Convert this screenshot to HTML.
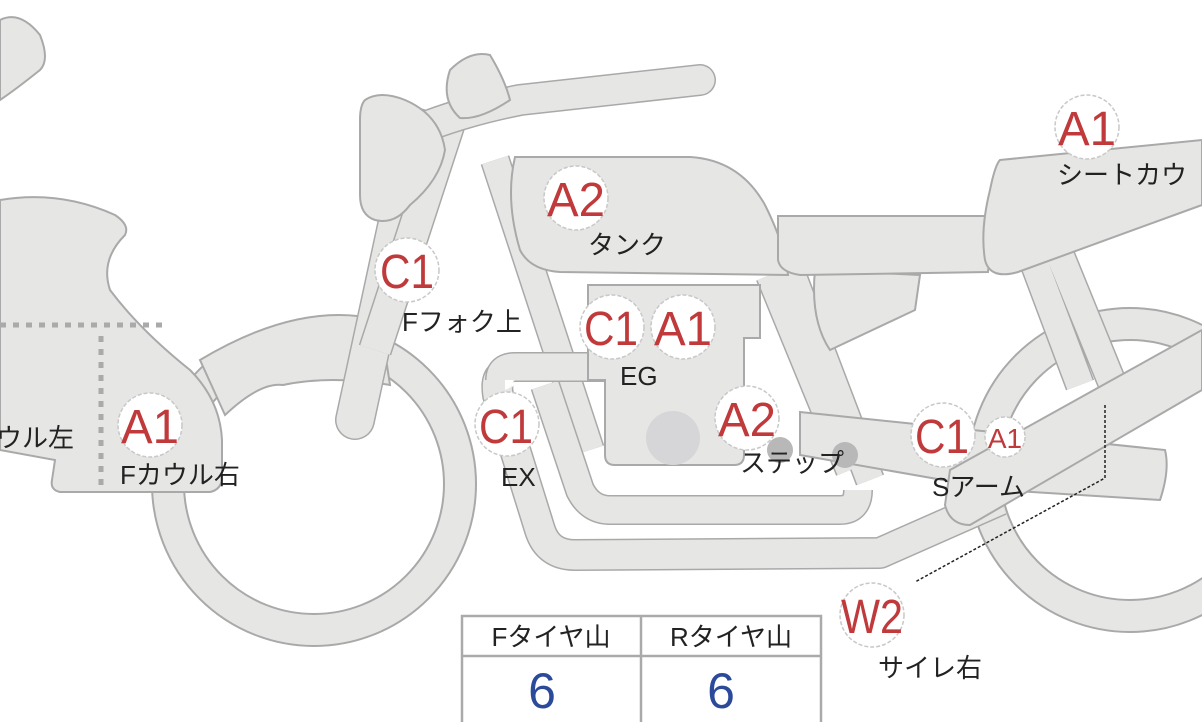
<!DOCTYPE html>
<html><head><meta charset="utf-8"><style>
html,body{margin:0;padding:0;background:#fff;}
svg{display:block}
text{font-family:"Liberation Sans","Noto Sans CJK JP",sans-serif;}
.j{font-size:26px;fill:#222}
.r{fill:#c0393b;font-size:48px;text-anchor:middle}
</style></head><body>
<svg width="1202" height="722" viewBox="0 0 1202 722" xmlns="http://www.w3.org/2000/svg">
<defs>
<style>.s{fill:#e6e6e4;stroke:#a9a9a9;stroke-width:2}</style>
</defs>
<g>
<circle cx="314" cy="484" r="146" fill="none" stroke="#a9a9a9" stroke-width="34"/>
<circle cx="314" cy="484" r="146" fill="none" stroke="#e6e6e4" stroke-width="30"/>
<circle cx="1130" cy="470" r="146" fill="none" stroke="#a9a9a9" stroke-width="34"/>
<circle cx="1130" cy="470" r="146" fill="none" stroke="#e6e6e4" stroke-width="30"/>
</g>
<path class="s" d="M200,360 Q300,300 380,320 L390,385 Q330,375 283,385 Q260,382 225,415 Z"/>
<path class="s" d="M0,20 Q20,10 40,35 Q50,60 40,70 Q15,90 0,100 Z"/>
<path class="s" d="M0,200 Q60,190 115,215 Q130,225 125,235 Q100,260 110,290 Q140,330 190,370 Q220,400 222,440 L222,480 Q220,490 210,492 L60,492 Q50,490 52,480 L55,460 L0,450 Z"/>
<path d="M0,325 H165 M101,336 V488" stroke="#aaa" stroke-width="5" stroke-dasharray="6,7" fill="none"/>
<path d="M418,128 L355,420" stroke="#a9a9a9" stroke-width="40" stroke-linecap="round"/>
<path d="M418,128 L355,420" stroke="#e6e6e4" stroke-width="37" stroke-linecap="round"/>
<path d="M450,120 L375,350" stroke="#a9a9a9" stroke-width="34"/>
<path d="M450,120 L375,350" stroke="#e6e6e4" stroke-width="31"/>
<path d="M430,125 Q470,110 520,100 L700,80" stroke="#a9a9a9" stroke-width="32" stroke-linecap="round" fill="none"/>
<path d="M430,125 Q470,110 520,100 L700,80" stroke="#e6e6e4" stroke-width="29" stroke-linecap="round" fill="none"/>
<path class="s" d="M450,70 Q470,50 490,55 Q505,80 510,100 Q480,120 460,118 Q440,100 450,70 Z"/>
<path class="s" d="M365,100 Q380,90 405,100 Q440,115 445,150 Q440,180 410,205 Q395,225 375,220 Q360,215 360,195 L360,120 Q360,105 365,100 Z"/>
<path d="M495,160 L590,450 M770,275 L850,470 M790,270 L870,480" stroke="#a9a9a9" stroke-width="30" fill="none"/>
<path d="M495,160 L590,450 M770,275 L850,470 M790,270 L870,480" stroke="#e6e6e4" stroke-width="27" fill="none"/>
<path d="M1060,255 L1115,390 M1035,265 L1080,385" stroke="#a9a9a9" stroke-width="30" fill="none"/>
<path d="M1060,255 L1115,390 M1035,265 L1080,385" stroke="#e6e6e4" stroke-width="27" fill="none"/>
<path class="s" d="M815,270 L920,275 L915,310 L830,350 Q810,320 815,270 Z"/>
<path d="M505,375 Q495,375 498,395 L540,530 Q548,555 575,555 L880,553 L1000,500" stroke="#a9a9a9" stroke-width="32" fill="none" stroke-linejoin="round"/>
<path d="M505,375 Q495,375 498,395 L540,530 Q548,555 575,555 L880,553 L1000,500" stroke="#e6e6e4" stroke-width="29" fill="none" stroke-linejoin="round"/>
<path d="M545,385 L580,490 Q590,510 610,510 L840,510 Q858,510 858,490" stroke="#a9a9a9" stroke-width="30" fill="none"/>
<path d="M545,385 L580,490 Q590,510 610,510 L840,510 Q858,510 858,490" stroke="#e6e6e4" stroke-width="27" fill="none"/>
<path d="M500,380 Q500,367 515,367 L605,367" stroke="#a9a9a9" stroke-width="30" fill="none"/>
<path d="M500,380 Q500,367 515,367 L607,367" stroke="#e6e6e4" stroke-width="27" fill="none"/>
<path class="s" d="M588,285 L760,285 L760,338 L744,338 L744,455 Q744,465 734,465 L615,465 Q605,465 605,455 L605,380 L588,380 Z"/>
<circle cx="673" cy="438" r="27" fill="#d6d6d8"/>
<path class="s" d="M800,412 L1165,450 Q1170,470 1160,500 L1000,490 L800,455 Z"/>
<circle cx="780" cy="450" r="13" fill="#b8b8b8"/>
<circle cx="845" cy="455" r="13" fill="#b8b8b8"/>
<path class="s" d="M950,470 L1202,330 L1202,390 L970,525 Q950,525 945,505 Z"/>
<path class="s" d="M515,157 L690,157 Q740,160 765,205 Q785,245 788,275 L560,272 Q530,270 520,250 Q505,200 515,157 Z"/>
<path class="s" d="M778,216 L988,216 Q992,240 988,272 L800,275 Q780,272 778,260 Z"/>
<path class="s" d="M1000,160 L1202,140 L1202,205 L1018,272 Q990,280 985,260 Q980,230 990,190 Q995,165 1000,160 Z"/>
<path d="M1105,405 V478 L915,582" stroke="#222" stroke-width="1.5" stroke-dasharray="3,2" fill="none"/>
<g fill="#fff" stroke="#c8c8c8" stroke-width="1.5" stroke-dasharray="4,2">
<circle cx="576" cy="198" r="32"/>
<circle cx="407" cy="270" r="32"/>
<circle cx="612" cy="327" r="32"/>
<circle cx="683" cy="327" r="32"/>
<circle cx="507" cy="424" r="32"/>
<circle cx="747" cy="418" r="32"/>
<circle cx="943" cy="435" r="32"/>
<circle cx="1005" cy="437" r="20"/>
<circle cx="1087" cy="127" r="32"/>
<circle cx="872" cy="615" r="32"/>
<circle cx="150" cy="425" r="32"/>
</g>
<g class="r">
<text class="r" x="576" y="216" textLength="58" lengthAdjust="spacingAndGlyphs">A2</text>
<text class="r" x="407" y="288" textLength="54" lengthAdjust="spacingAndGlyphs">C1</text>
<text class="r" x="611" y="345" textLength="54" lengthAdjust="spacingAndGlyphs">C1</text>
<text class="r" x="683" y="345" textLength="58" lengthAdjust="spacingAndGlyphs">A1</text>
<text class="r" x="506" y="443" textLength="54" lengthAdjust="spacingAndGlyphs">C1</text>
<text class="r" x="747" y="436" textLength="58" lengthAdjust="spacingAndGlyphs">A2</text>
<text class="r" x="942" y="453" textLength="54" lengthAdjust="spacingAndGlyphs">C1</text>
<text class="r" x="1005" y="448" style="font-size:28px">A1</text>
<text class="r" x="1087" y="145" textLength="58" lengthAdjust="spacingAndGlyphs">A1</text>
<text class="r" x="872" y="633" textLength="62" lengthAdjust="spacingAndGlyphs">W2</text>
<text class="r" x="150" y="443" textLength="58" lengthAdjust="spacingAndGlyphs">A1</text>
</g>
<text class="j" x="588" y="254">タンク</text>
<text class="j" x="402" y="331">Fフォク上</text>
<text class="j" x="620" y="385">EG</text>
<text class="j" x="501" y="486">EX</text>
<text class="j" x="740" y="472">ステップ</text>
<text class="j" x="932" y="496">Sアーム</text>
<text class="j" x="1057" y="184">シートカウ</text>
<text class="j" x="878" y="677">サイレ右</text>
<text class="j" x="120" y="484">Fカウル右</text>
<text class="j" x="-4" y="447">ウル左</text>
<rect x="462" y="616" width="359" height="110" fill="#fff" stroke="#aaa" stroke-width="2.5"/>
<line x1="462" y1="656" x2="821" y2="656" stroke="#aaa" stroke-width="2.5"/>
<line x1="641" y1="616" x2="641" y2="722" stroke="#aaa" stroke-width="2.5"/>
<text class="j" x="551" y="646" text-anchor="middle">Fタイヤ山</text>
<text class="j" x="731" y="646" text-anchor="middle">Rタイヤ山</text>
<text x="542" y="708" text-anchor="middle" style="font-size:50px;fill:#2c4a9a">6</text>
<text x="721" y="708" text-anchor="middle" style="font-size:50px;fill:#2c4a9a">6</text>
</svg>
</body></html>
